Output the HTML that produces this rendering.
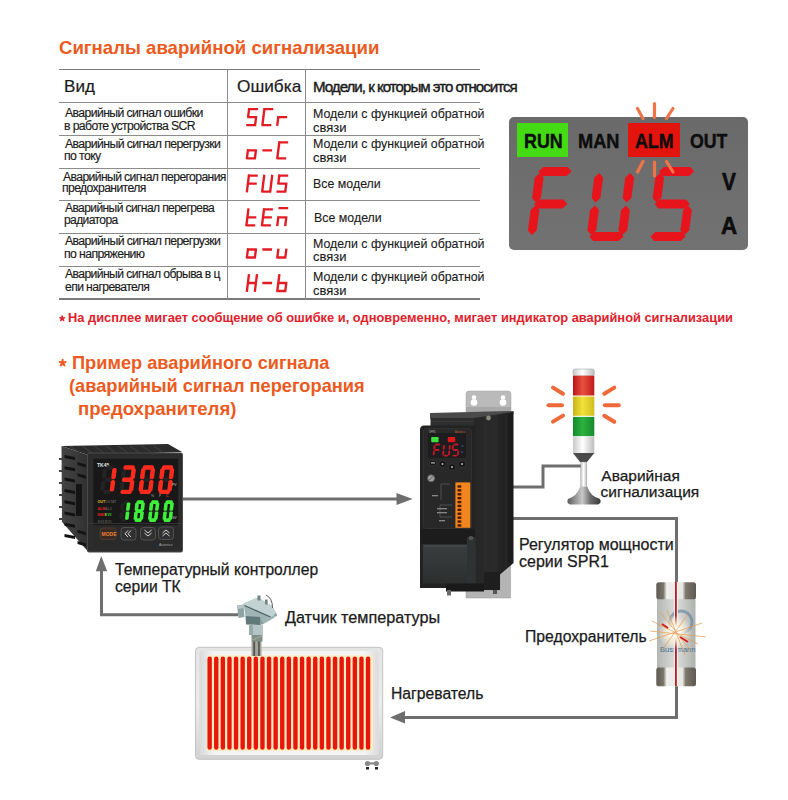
<!DOCTYPE html>
<html><head><meta charset="utf-8"><style>
html,body{margin:0;padding:0;background:#fff;}
body{width:788px;height:800px;position:relative;overflow:hidden;font-family:"Liberation Sans",sans-serif;}
.t{position:absolute;white-space:nowrap;line-height:1;transform-origin:0 0;}
</style></head><body>
<div class="t" style="left:58.86px;top:37.62px;font-size:19px;font-weight:700;color:#ec5a1e;transform:scaleX(0.9791);">Сигналы аварийной сигнализации</div>
<div style="position:absolute;left:59px;top:68.6px;width:421px;height:1.8px;background:#7a7a7a"></div>
<div style="position:absolute;left:59px;top:101.5px;width:421px;height:1.3px;background:#8c8c8c"></div>
<div style="position:absolute;left:59px;top:134.9px;width:421px;height:1.3px;background:#8c8c8c"></div>
<div style="position:absolute;left:59px;top:167.6px;width:421px;height:1.3px;background:#8c8c8c"></div>
<div style="position:absolute;left:59px;top:200.2px;width:421px;height:1.3px;background:#8c8c8c"></div>
<div style="position:absolute;left:59px;top:233.0px;width:421px;height:1.3px;background:#8c8c8c"></div>
<div style="position:absolute;left:59px;top:265.6px;width:421px;height:1.3px;background:#8c8c8c"></div>
<div style="position:absolute;left:59px;top:297.8px;width:421px;height:1.8px;background:#7a7a7a"></div>
<div style="position:absolute;left:227px;top:69px;width:1.3px;height:230px;background:#8c8c8c"></div>
<div style="position:absolute;left:304.7px;top:69px;width:1.3px;height:230px;background:#8c8c8c"></div>
<div class="t" style="left:64.43px;top:77.91px;font-size:17px;color:#1a1a1a;transform:scaleX(1.0045);-webkit-text-stroke:0.2px #1a1a1a;">Вид</div>
<div class="t" style="left:237.02px;top:77.61px;font-size:17px;color:#1a1a1a;transform:scaleX(1.0134);-webkit-text-stroke:0.2px #1a1a1a;">Ошибка</div>
<div class="t" style="left:312.69px;top:80.20px;font-size:14.3px;letter-spacing:-0.95px;color:#1a1a1a;transform:scaleX(1.0571);-webkit-text-stroke:0.4px #1a1a1a;">Модели, к которым это относится</div>
<div class="t" style="left:64.80px;top:107.09px;font-size:12.3px;letter-spacing:-0.62px;color:#1a1a1a;transform:scaleX(0.9958);-webkit-text-stroke:0.15px #1a1a1a;">Аварийный сигнал ошибки</div>
<div class="t" style="left:63.94px;top:119.99px;font-size:12.3px;letter-spacing:-0.62px;color:#1a1a1a;transform:scaleX(0.9958);-webkit-text-stroke:0.15px #1a1a1a;">в работе устройства SCR</div>
<div class="t" style="left:64.80px;top:137.69px;font-size:12.3px;letter-spacing:-0.62px;color:#1a1a1a;transform:scaleX(1.0003);-webkit-text-stroke:0.15px #1a1a1a;">Аварийный сигнал перегрузки</div>
<div class="t" style="left:63.94px;top:149.79px;font-size:12.3px;letter-spacing:-0.62px;color:#1a1a1a;transform:scaleX(1.0003);-webkit-text-stroke:0.15px #1a1a1a;">по току</div>
<div class="t" style="left:62.50px;top:171.09px;font-size:12.3px;letter-spacing:-0.62px;color:#1a1a1a;transform:scaleX(0.9898);-webkit-text-stroke:0.15px #1a1a1a;">Аварийный сигнал перегорания</div>
<div class="t" style="left:61.65px;top:182.39px;font-size:12.3px;letter-spacing:-0.62px;color:#1a1a1a;transform:scaleX(0.9898);-webkit-text-stroke:0.15px #1a1a1a;">предохранителя</div>
<div class="t" style="left:65.20px;top:202.39px;font-size:12.3px;letter-spacing:-0.62px;color:#1a1a1a;transform:scaleX(0.9806);-webkit-text-stroke:0.15px #1a1a1a;">Аварийный сигнал перегрева</div>
<div class="t" style="left:64.42px;top:214.49px;font-size:12.3px;letter-spacing:-0.62px;color:#1a1a1a;transform:scaleX(0.9806);-webkit-text-stroke:0.15px #1a1a1a;">радиатора</div>
<div class="t" style="left:65.00px;top:235.49px;font-size:12.3px;letter-spacing:-0.62px;color:#1a1a1a;transform:scaleX(1.0003);-webkit-text-stroke:0.15px #1a1a1a;">Аварийный сигнал перегрузки</div>
<div class="t" style="left:64.14px;top:248.39px;font-size:12.3px;letter-spacing:-0.62px;color:#1a1a1a;transform:scaleX(1.0003);-webkit-text-stroke:0.15px #1a1a1a;">по напряжению</div>
<div class="t" style="left:65.00px;top:268.09px;font-size:12.3px;letter-spacing:-0.62px;color:#1a1a1a;transform:scaleX(0.9916);-webkit-text-stroke:0.15px #1a1a1a;">Аварийный сигнал обрыва в ц</div>
<div class="t" style="left:64.51px;top:280.69px;font-size:12.3px;letter-spacing:-0.62px;color:#1a1a1a;transform:scaleX(0.9916);-webkit-text-stroke:0.15px #1a1a1a;">епи нагревателя</div>
<div class="t" style="left:312.61px;top:107.93px;font-size:12.6px;color:#1a1a1a;transform:scaleX(0.9833);-webkit-text-stroke:0.12px #1a1a1a;">Модели с функцией обратной</div>
<div class="t" style="left:313.08px;top:121.73px;font-size:12.6px;color:#1a1a1a;transform:scaleX(1.0325);-webkit-text-stroke:0.12px #1a1a1a;">связи</div>
<div class="t" style="left:312.61px;top:138.33px;font-size:12.6px;color:#1a1a1a;transform:scaleX(0.9833);-webkit-text-stroke:0.12px #1a1a1a;">Модели с функцией обратной</div>
<div class="t" style="left:313.08px;top:152.43px;font-size:12.6px;color:#1a1a1a;transform:scaleX(1.0325);-webkit-text-stroke:0.12px #1a1a1a;">связи</div>
<div class="t" style="left:312.61px;top:178.23px;font-size:12.6px;color:#1a1a1a;transform:scaleX(0.9833);-webkit-text-stroke:0.12px #1a1a1a;">Все модели</div>
<div class="t" style="left:313.91px;top:212.23px;font-size:12.6px;color:#1a1a1a;transform:scaleX(0.9833);-webkit-text-stroke:0.12px #1a1a1a;">Все модели</div>
<div class="t" style="left:312.61px;top:237.63px;font-size:12.6px;color:#1a1a1a;transform:scaleX(0.9833);-webkit-text-stroke:0.12px #1a1a1a;">Модели с функцией обратной</div>
<div class="t" style="left:313.08px;top:251.43px;font-size:12.6px;color:#1a1a1a;transform:scaleX(1.0325);-webkit-text-stroke:0.12px #1a1a1a;">связи</div>
<div class="t" style="left:312.61px;top:270.53px;font-size:12.6px;color:#1a1a1a;transform:scaleX(0.9833);-webkit-text-stroke:0.12px #1a1a1a;">Модели с функцией обратной</div>
<div class="t" style="left:313.08px;top:284.53px;font-size:12.6px;color:#1a1a1a;transform:scaleX(1.0325);-webkit-text-stroke:0.12px #1a1a1a;">связи</div>
<svg style="position:absolute;left:0;top:0" width="788" height="800"><path d="M62.20 318.50L62.20 316.20M62.20 318.50L64.39 317.79M62.20 318.50L63.55 320.36M62.20 318.50L60.85 320.36M62.20 318.50L60.01 317.79" stroke="#e0212b" stroke-width="1.7" stroke-linecap="round" fill="none"/></svg>
<div class="t" style="left:67.86px;top:312.10px;font-size:12.4px;font-weight:700;color:#e0212b;transform:scaleX(1.0376);">На дисплее мигает сообщение об ошибке и, одновременно, мигает индикатор аварийной сигнализации</div>
<svg style="position:absolute;left:0;top:0" width="788" height="800"><path d="M62.60 362.90L62.60 359.90M62.60 362.90L65.45 361.97M62.60 362.90L64.36 365.33M62.60 362.90L60.84 365.33M62.60 362.90L59.75 361.97" stroke="#ec5a1e" stroke-width="2.1" stroke-linecap="round" fill="none"/></svg>
<div class="t" style="left:71.92px;top:354.06px;font-size:18.6px;font-weight:700;color:#ec5a1e;transform:scaleX(0.9798);">Пример аварийного сигнала</div>
<div class="t" style="left:69.29px;top:377.36px;font-size:18.6px;font-weight:700;color:#ec5a1e;transform:scaleX(0.9810);">(аварийный сигнал перегорания</div>
<div class="t" style="left:77.60px;top:400.26px;font-size:18.6px;font-weight:700;color:#ec5a1e;transform:scaleX(0.9986);">предохранителя)</div>
<div class="t" style="left:601.30px;top:468.48px;font-size:15.5px;color:#1a1a1a;transform:scaleX(1.0000);-webkit-text-stroke:0.25px #1a1a1a;">Аварийная</div>
<div class="t" style="left:600.58px;top:484.48px;font-size:15.5px;color:#1a1a1a;transform:scaleX(1.0000);-webkit-text-stroke:0.25px #1a1a1a;">сигнализация</div>
<div class="t" style="left:518.72px;top:536.59px;font-size:15.6px;color:#1a1a1a;transform:scaleX(1.0256);-webkit-text-stroke:0.25px #1a1a1a;">Регулятор мощности</div>
<div class="t" style="left:519.36px;top:554.39px;font-size:15.6px;color:#1a1a1a;transform:scaleX(1.0256);-webkit-text-stroke:0.25px #1a1a1a;">серии SPR1</div>
<div class="t" style="left:115.29px;top:561.59px;font-size:15.6px;color:#1a1a1a;transform:scaleX(1.0024);-webkit-text-stroke:0.25px #1a1a1a;">Температурный контроллер</div>
<div class="t" style="left:114.97px;top:579.39px;font-size:15.6px;color:#1a1a1a;transform:scaleX(1.0024);-webkit-text-stroke:0.25px #1a1a1a;">серии ТК</div>
<div class="t" style="left:284.72px;top:609.83px;font-size:15.8px;color:#1a1a1a;transform:scaleX(1.0253);-webkit-text-stroke:0.25px #1a1a1a;">Датчик температуры</div>
<div class="t" style="left:525.44px;top:628.69px;font-size:15.6px;color:#1a1a1a;transform:scaleX(1.0085);-webkit-text-stroke:0.25px #1a1a1a;">Предохранитель</div>
<div class="t" style="left:391.04px;top:686.13px;font-size:15.8px;color:#1a1a1a;transform:scaleX(0.9936);-webkit-text-stroke:0.25px #1a1a1a;">Нагреватель</div>
<svg style="position:absolute;left:0;top:0" width="788" height="800"><path d="M249.40 109.10L256.80 109.10 M249.06 109.40L248.14 116.80 M248.40 117.10L255.80 117.10 M256.06 117.40L255.14 124.80 M247.40 125.10L254.80 125.10 M264.70 109.10L272.10 109.10 M264.36 109.40L263.44 116.80 M263.36 117.40L262.44 124.80 M262.70 125.10L270.10 125.10 M278.26 117.40L277.34 124.80 M278.60 117.10L286.00 117.10" stroke="#e31b23" stroke-width="2.35" fill="none" stroke-linecap="square"/></svg>
<svg style="position:absolute;left:0;top:0" width="788" height="800"><path d="M255.86 150.60L254.94 158.00 M247.20 158.30L254.60 158.30 M247.86 150.60L246.94 158.00 M248.20 150.30L255.60 150.30 M263.50 150.30L270.90 150.30 M279.60 142.30L287.00 142.30 M279.26 142.60L278.34 150.00 M278.26 150.60L277.34 158.00 M277.60 158.30L285.00 158.30" stroke="#e31b23" stroke-width="2.35" fill="none" stroke-linecap="square"/></svg>
<svg style="position:absolute;left:0;top:0" width="788" height="800"><path d="M249.20 175.60L256.60 175.60 M248.86 175.90L247.94 183.30 M248.20 183.60L255.60 183.60 M247.86 183.90L246.94 191.30 M272.16 175.90L271.24 183.30 M271.16 183.90L270.24 191.30 M262.50 191.60L269.90 191.60 M263.16 183.90L262.24 191.30 M264.16 175.90L263.24 183.30 M279.60 175.60L287.00 175.60 M279.26 175.90L278.34 183.30 M278.60 183.60L286.00 183.60 M286.26 183.90L285.34 191.30 M277.60 191.60L285.00 191.60" stroke="#e31b23" stroke-width="2.35" fill="none" stroke-linecap="square"/></svg>
<svg style="position:absolute;left:0;top:0" width="788" height="800"><path d="M248.36 209.60L247.44 217.00 M247.36 217.60L246.44 225.00 M246.70 225.30L254.10 225.30 M247.70 217.30L255.10 217.30 M264.30 209.30L271.70 209.30 M263.96 209.60L263.04 217.00 M263.30 217.30L270.70 217.30 M262.96 217.60L262.04 225.00 M262.30 225.30L269.70 225.30 M286.26 217.60L285.34 225.00 M278.26 217.60L277.34 225.00 M278.60 217.30L286.00 217.30 M279.60 208.10L287.00 208.10" stroke="#e31b23" stroke-width="2.35" fill="none" stroke-linecap="square"/></svg>
<svg style="position:absolute;left:0;top:0" width="788" height="800"><path d="M255.86 249.80L254.94 257.20 M247.20 257.50L254.60 257.50 M247.86 249.80L246.94 257.20 M248.20 249.50L255.60 249.50 M263.50 249.50L270.90 249.50 M286.26 249.80L285.34 257.20 M277.60 257.50L285.00 257.50 M278.26 249.80L277.34 257.20" stroke="#e31b23" stroke-width="2.35" fill="none" stroke-linecap="square"/></svg>
<svg style="position:absolute;left:0;top:0" width="788" height="800"><path d="M256.86 275.30L255.94 282.70 M255.86 283.30L254.94 290.70 M247.86 283.30L246.94 290.70 M248.86 275.30L247.94 282.70 M248.20 283.00L255.60 283.00 M263.50 283.00L270.90 283.00 M279.26 275.30L278.34 282.70 M278.26 283.30L277.34 290.70 M277.60 291.00L285.00 291.00 M286.26 283.30L285.34 290.70 M278.60 283.00L286.00 283.00" stroke="#e31b23" stroke-width="2.35" fill="none" stroke-linecap="square"/></svg>
<div style="position:absolute;left:508.5px;top:117.2px;width:239.5px;height:132.5px;background:linear-gradient(180deg,#6a6a6a,#727272);border-radius:5px"></div>
<div style="position:absolute;left:517.4px;top:123.4px;width:50.8px;height:33.9px;background:#45db14"></div>
<div style="position:absolute;left:628.4px;top:123.4px;width:51.2px;height:33.8px;background:#e2140d"></div>
<div class="t" style="left:523.74px;top:130.02px;font-size:21px;font-weight:700;color:#0d0d0d;transform:scaleX(0.8518);-webkit-text-stroke:0.45px #0d0d0d;">RUN</div>
<div class="t" style="left:577.82px;top:130.02px;font-size:21px;font-weight:700;color:#0d0d0d;transform:scaleX(0.8658);-webkit-text-stroke:0.45px #0d0d0d;">MAN</div>
<div class="t" style="left:635.16px;top:130.02px;font-size:21px;font-weight:700;color:#0d0d0d;transform:scaleX(0.8445);-webkit-text-stroke:0.45px #0d0d0d;">ALM</div>
<div class="t" style="left:690.29px;top:130.02px;font-size:21px;font-weight:700;color:#0d0d0d;transform:scaleX(0.8437);-webkit-text-stroke:0.45px #0d0d0d;">OUT</div>
<div class="t" style="left:721.60px;top:171.11px;font-size:23.5px;font-weight:700;color:#0d0d0d;transform:scaleX(0.8900);-webkit-text-stroke:0.6px #0d0d0d;">V</div>
<div class="t" style="left:720.64px;top:214.91px;font-size:23.5px;font-weight:700;color:#0d0d0d;transform:scaleX(0.9527);-webkit-text-stroke:0.6px #0d0d0d;">A</div>
<svg style="position:absolute;left:0;top:0" width="788" height="800"><polygon points="538.4,171.5 543.4,167.1 567.8,167.1 571.6,171.5 571.6,171.5 566.6,175.9 542.2,175.9 538.4,171.5" fill="#e8141c"/><polygon points="539.8,173.1 539.8,173.1 543.6,177.5 540.9,198.0 536.0,202.4 536.0,202.4 532.1,198.0 534.8,177.5" fill="#e8141c"/><polygon points="534.1,204.0 539.1,199.6 563.5,199.6 567.4,204.0 567.4,204.0 562.4,208.4 538.0,208.4 534.1,204.0" fill="#e8141c"/><polygon points="535.5,205.6 535.5,205.6 539.4,210.0 536.7,230.5 531.7,234.9 531.7,234.9 527.9,230.5 530.6,210.0" fill="#e8141c"/><polygon points="630.3,173.1 630.3,173.1 634.1,177.5 631.4,198.0 626.5,202.4 626.5,202.4 622.6,198.0 625.3,177.5" fill="#e8141c"/><polygon points="626.0,205.6 626.0,205.6 629.9,210.0 627.2,230.5 622.2,234.9 622.2,234.9 618.4,230.5 621.1,210.0" fill="#e8141c"/><polygon points="589.4,236.5 594.4,232.1 619.8,232.1 623.6,236.5 623.6,236.5 618.6,240.9 593.2,240.9 589.4,236.5" fill="#e8141c"/><polygon points="595.0,205.6 595.0,205.6 598.9,210.0 596.2,230.5 591.2,234.9 591.2,234.9 587.4,230.5 590.1,210.0" fill="#e8141c"/><polygon points="599.3,173.1 599.3,173.1 603.1,177.5 600.4,198.0 595.5,202.4 595.5,202.4 591.6,198.0 594.3,177.5" fill="#e8141c"/><polygon points="658.9,171.5 663.9,167.1 690.3,167.1 694.1,171.5 694.1,171.5 689.1,175.9 662.7,175.9 658.9,171.5" fill="#e8141c"/><polygon points="660.3,173.1 660.3,173.1 664.1,177.5 661.4,198.0 656.5,202.4 656.5,202.4 652.6,198.0 655.3,177.5" fill="#e8141c"/><polygon points="654.6,204.0 659.6,199.6 686.0,199.6 689.9,204.0 689.9,204.0 684.9,208.4 658.5,208.4 654.6,204.0" fill="#e8141c"/><polygon points="688.0,205.6 688.0,205.6 691.9,210.0 689.2,230.5 684.2,234.9 684.2,234.9 680.4,230.5 683.1,210.0" fill="#e8141c"/><polygon points="650.4,236.5 655.4,232.1 681.8,232.1 685.6,236.5 685.6,236.5 680.6,240.9 654.2,240.9 650.4,236.5" fill="#e8141c"/><g stroke="#f07448" stroke-width="3.2" stroke-linecap="round"><line x1="654.5" y1="103.5" x2="654.5" y2="117.5"/><line x1="637.5" y1="108.5" x2="643" y2="118.5"/><line x1="673" y1="108.5" x2="666.5" y2="118.5"/><line x1="654.5" y1="162" x2="654.5" y2="176"/><line x1="643" y1="161.5" x2="637.5" y2="172"/><line x1="666.5" y1="161.5" x2="673" y2="172"/></g></svg>
<svg style="position:absolute;left:0;top:0" width="788" height="800"><g stroke="#6e6e6e" stroke-width="3" fill="none" stroke-linejoin="miter"><polyline points="181,499 399,499"/><polyline points="512,487 543,487 543,466 584,466"/><polyline points="512,518.5 676.5,518.5 676.5,717.5 403,717.5"/><polyline points="238,614.8 101.5,614.8 101.5,569"/></g><g fill="#6e6e6e"><polygon points="412.6,499 396.5,493 396.5,505"/><polygon points="390,717.5 405,711 405,723.5"/><polygon points="101.3,556 95.8,571.2 107.2,571.2"/></g></svg>
<svg style="position:absolute;left:0;top:0" width="788" height="800"><defs><linearGradient id="tkb" x1="0" x2="1"><stop offset="0" stop-color="#444"/><stop offset="1" stop-color="#303030"/></linearGradient></defs><polygon points="61.5,446 168,444 182,452 88,455" fill="#2b2b2b"/><g stroke="#4a4a4a" stroke-width="0.8"><line x1="70" y1="446" x2="80" y2="453"/><line x1="82" y1="446" x2="92" y2="453"/><line x1="94" y1="446" x2="104" y2="453"/><line x1="106" y1="446" x2="116" y2="453"/><line x1="118" y1="446" x2="128" y2="453"/><line x1="130" y1="446" x2="140" y2="453"/><line x1="142" y1="446" x2="152" y2="453"/><line x1="154" y1="446" x2="164" y2="453"/></g><polygon points="61.5,446 88,455 88,551.5 62,522" fill="url(#tkb)"/><polygon points="64.5,455.0 75,457.0 75,460.0 64.5,458.0" fill="#121212"/><polygon points="64.5,466.3 75,468.3 75,471.3 64.5,469.3" fill="#121212"/><polygon points="64.5,477.6 75,479.6 75,482.6 64.5,480.6" fill="#121212"/><polygon points="64.5,488.9 75,490.9 75,493.9 64.5,491.9" fill="#121212"/><polygon points="64.5,500.2 75,502.2 75,505.2 64.5,503.2" fill="#121212"/><polygon points="64.5,511.5 75,513.5 75,516.5 64.5,514.5" fill="#121212"/><polygon points="64.5,522.8 75,524.8 75,527.8 64.5,525.8" fill="#121212"/><polygon points="64.5,534.1 75,536.1 75,539.1 64.5,537.1" fill="#121212"/><polygon points="77.5,462.0 86,464.5 86,467.5 77.5,465.0" fill="#141414"/><polygon points="77.5,473.3 86,475.8 86,478.8 77.5,476.3" fill="#141414"/><polygon points="77.5,529.8 86,532.3 86,535.3 77.5,532.8" fill="#141414"/><polygon points="77.5,541.1 86,543.6 86,546.6 77.5,544.1" fill="#141414"/><rect x="76" y="484" width="6" height="32" fill="#141414"/><g fill="#444"><rect x="59" y="458" width="3" height="2"/><rect x="59" y="470" width="3" height="2"/><rect x="59" y="482" width="3" height="2"/><rect x="59" y="494" width="3" height="2"/><rect x="59" y="506" width="3" height="2"/><rect x="59" y="518" width="3" height="2"/></g><rect x="87.5" y="453" width="95" height="99" rx="1.5" fill="#2c2c2c" stroke="#4a4a4a" stroke-width="1"/><rect x="93" y="458.5" width="85.5" height="67" fill="#181818" stroke="#2a2a2a" stroke-width="0.8"/><rect x="93" y="526" width="85.5" height="22" fill="#2a2a2a"/><line x1="88" y1="523.5" x2="182" y2="523.5" stroke="#3a3a3a" stroke-width="0.8"/><text x="97" y="466.5" font-family="Liberation Sans" font-size="5" font-weight="700" fill="#e0e0e0">TK45</text><polygon points="105.6,467.5 108.0,465.4 112.4,465.4 114.2,467.5 114.2,467.5 111.8,469.6 107.4,469.6 105.6,467.5" fill="#252323"/><polygon points="114.6,468.0 114.6,468.0 116.5,470.1 115.6,477.1 113.3,479.2 113.3,479.2 111.4,477.1 112.3,470.1" fill="#252323"/><polygon points="113.1,480.2 113.1,480.2 115.0,482.3 114.1,489.3 111.8,491.4 111.8,491.4 109.9,489.3 110.8,482.3" fill="#252323"/><polygon points="102.6,491.9 105.0,489.8 109.4,489.8 111.2,491.9 111.2,491.9 108.8,494.0 104.4,494.0 102.6,491.9" fill="#252323"/><polygon points="103.5,480.2 103.5,480.2 105.4,482.3 104.5,489.3 102.2,491.4 102.2,491.4 100.3,489.3 101.2,482.3" fill="#252323"/><polygon points="105.0,468.0 105.0,468.0 106.9,470.1 106.0,477.1 103.7,479.2 103.7,479.2 101.8,477.1 102.7,470.1" fill="#252323"/><polygon points="104.1,479.7 106.5,477.6 110.9,477.6 112.7,479.7 112.7,479.7 110.3,481.8 105.9,481.8 104.1,479.7" fill="#252323"/><polygon points="124.8,467.5 127.2,465.4 131.6,465.4 133.4,467.5 133.4,467.5 131.0,469.6 126.6,469.6 124.8,467.5" fill="#252323"/><polygon points="133.8,468.0 133.8,468.0 135.7,470.1 134.8,477.1 132.5,479.2 132.5,479.2 130.6,477.1 131.5,470.1" fill="#252323"/><polygon points="132.3,480.2 132.3,480.2 134.2,482.3 133.3,489.3 131.0,491.4 131.0,491.4 129.1,489.3 130.0,482.3" fill="#252323"/><polygon points="121.8,491.9 124.2,489.8 128.6,489.8 130.4,491.9 130.4,491.9 128.0,494.0 123.6,494.0 121.8,491.9" fill="#252323"/><polygon points="122.7,480.2 122.7,480.2 124.6,482.3 123.7,489.3 121.4,491.4 121.4,491.4 119.5,489.3 120.4,482.3" fill="#252323"/><polygon points="124.2,468.0 124.2,468.0 126.1,470.1 125.2,477.1 122.9,479.2 122.9,479.2 121.0,477.1 121.9,470.1" fill="#252323"/><polygon points="123.3,479.7 125.7,477.6 130.1,477.6 131.9,479.7 131.9,479.7 129.5,481.8 125.1,481.8 123.3,479.7" fill="#252323"/><polygon points="144.0,467.5 146.4,465.4 150.8,465.4 152.6,467.5 152.6,467.5 150.2,469.6 145.8,469.6 144.0,467.5" fill="#252323"/><polygon points="153.0,468.0 153.0,468.0 154.9,470.1 154.0,477.1 151.7,479.2 151.7,479.2 149.8,477.1 150.7,470.1" fill="#252323"/><polygon points="151.5,480.2 151.5,480.2 153.4,482.3 152.5,489.3 150.2,491.4 150.2,491.4 148.3,489.3 149.2,482.3" fill="#252323"/><polygon points="141.0,491.9 143.4,489.8 147.8,489.8 149.6,491.9 149.6,491.9 147.2,494.0 142.8,494.0 141.0,491.9" fill="#252323"/><polygon points="141.9,480.2 141.9,480.2 143.8,482.3 142.9,489.3 140.6,491.4 140.6,491.4 138.7,489.3 139.6,482.3" fill="#252323"/><polygon points="143.4,468.0 143.4,468.0 145.3,470.1 144.4,477.1 142.1,479.2 142.1,479.2 140.2,477.1 141.1,470.1" fill="#252323"/><polygon points="142.5,479.7 144.9,477.6 149.3,477.6 151.1,479.7 151.1,479.7 148.7,481.8 144.3,481.8 142.5,479.7" fill="#252323"/><polygon points="163.2,467.5 165.6,465.4 170.0,465.4 171.8,467.5 171.8,467.5 169.4,469.6 165.0,469.6 163.2,467.5" fill="#252323"/><polygon points="172.2,468.0 172.2,468.0 174.1,470.1 173.2,477.1 170.9,479.2 170.9,479.2 169.0,477.1 169.9,470.1" fill="#252323"/><polygon points="170.7,480.2 170.7,480.2 172.6,482.3 171.7,489.3 169.4,491.4 169.4,491.4 167.5,489.3 168.4,482.3" fill="#252323"/><polygon points="160.2,491.9 162.6,489.8 167.0,489.8 168.8,491.9 168.8,491.9 166.4,494.0 162.0,494.0 160.2,491.9" fill="#252323"/><polygon points="161.1,480.2 161.1,480.2 163.0,482.3 162.1,489.3 159.8,491.4 159.8,491.4 157.9,489.3 158.8,482.3" fill="#252323"/><polygon points="162.6,468.0 162.6,468.0 164.5,470.1 163.6,477.1 161.3,479.2 161.3,479.2 159.4,477.1 160.3,470.1" fill="#252323"/><polygon points="161.7,479.7 164.1,477.6 168.5,477.6 170.3,479.7 170.3,479.7 167.9,481.8 163.5,481.8 161.7,479.7" fill="#252323"/><polygon points="113.8,467.9 115.5,467.9 116.7,469.2 115.6,478.0 114.1,479.3 112.4,479.3 111.2,478.0 112.3,469.2" fill="#ff2a1e"/><polygon points="112.3,480.1 114.0,480.1 115.2,481.4 114.1,490.2 112.6,491.5 110.9,491.5 109.7,490.2 110.8,481.4" fill="#ff2a1e"/><polygon points="123.6,466.6 125.1,465.3 133.7,465.3 134.8,466.6 134.6,468.4 133.1,469.7 124.5,469.7 123.4,468.4" fill="#ff2a1e"/><polygon points="133.0,467.9 134.7,467.9 135.9,469.2 134.8,478.0 133.3,479.3 131.6,479.3 130.4,478.0 131.5,469.2" fill="#ff2a1e"/><polygon points="131.5,480.1 133.2,480.1 134.4,481.4 133.3,490.2 131.8,491.5 130.1,491.5 128.9,490.2 130.0,481.4" fill="#ff2a1e"/><polygon points="120.6,491.0 122.1,489.7 130.7,489.7 131.8,491.0 131.6,492.8 130.1,494.1 121.5,494.1 120.4,492.8" fill="#ff2a1e"/><polygon points="122.1,478.8 123.6,477.5 132.2,477.5 133.3,478.8 133.1,480.6 131.6,481.9 123.0,481.9 121.9,480.6" fill="#ff2a1e"/><polygon points="142.8,466.6 144.3,465.3 152.9,465.3 154.0,466.6 153.8,468.4 152.3,469.7 143.7,469.7 142.6,468.4" fill="#ff2a1e"/><polygon points="152.2,467.9 153.9,467.9 155.1,469.2 154.0,478.0 152.5,479.3 150.8,479.3 149.6,478.0 150.7,469.2" fill="#ff2a1e"/><polygon points="150.7,480.1 152.4,480.1 153.6,481.4 152.5,490.2 151.0,491.5 149.3,491.5 148.1,490.2 149.2,481.4" fill="#ff2a1e"/><polygon points="139.8,491.0 141.3,489.7 149.9,489.7 151.0,491.0 150.8,492.8 149.3,494.1 140.7,494.1 139.6,492.8" fill="#ff2a1e"/><polygon points="141.1,480.1 142.8,480.1 144.0,481.4 142.9,490.2 141.4,491.5 139.7,491.5 138.5,490.2 139.6,481.4" fill="#ff2a1e"/><polygon points="142.6,467.9 144.3,467.9 145.5,469.2 144.4,478.0 142.9,479.3 141.2,479.3 140.0,478.0 141.1,469.2" fill="#ff2a1e"/><polygon points="162.0,466.6 163.5,465.3 172.1,465.3 173.2,466.6 173.0,468.4 171.5,469.7 162.9,469.7 161.8,468.4" fill="#ff2a1e"/><polygon points="171.4,467.9 173.1,467.9 174.3,469.2 173.2,478.0 171.7,479.3 170.0,479.3 168.8,478.0 169.9,469.2" fill="#ff2a1e"/><polygon points="169.9,480.1 171.6,480.1 172.8,481.4 171.7,490.2 170.2,491.5 168.5,491.5 167.3,490.2 168.4,481.4" fill="#ff2a1e"/><polygon points="159.0,491.0 160.5,489.7 169.1,489.7 170.2,491.0 170.0,492.8 168.5,494.1 159.9,494.1 158.8,492.8" fill="#ff2a1e"/><polygon points="160.3,480.1 162.0,480.1 163.2,481.4 162.1,490.2 160.6,491.5 158.9,491.5 157.7,490.2 158.8,481.4" fill="#ff2a1e"/><polygon points="161.8,467.9 163.5,467.9 164.7,469.2 163.6,478.0 162.1,479.3 160.4,479.3 159.2,478.0 160.3,469.2" fill="#ff2a1e"/><polygon points="123.1,502.1 125.0,500.4 126.8,500.4 128.3,502.1 128.3,502.1 126.4,503.8 124.6,503.8 123.1,502.1" fill="#222522"/><polygon points="128.7,502.5 128.7,502.5 130.2,504.2 129.6,509.0 127.7,510.7 127.7,510.7 126.2,509.0 126.8,504.2" fill="#222522"/><polygon points="127.7,511.5 127.7,511.5 129.2,513.2 128.6,518.0 126.7,519.7 126.7,519.7 125.2,518.0 125.8,513.2" fill="#222522"/><polygon points="121.1,520.1 123.0,518.4 124.8,518.4 126.3,520.1 126.3,520.1 124.4,521.8 122.6,521.8 121.1,520.1" fill="#222522"/><polygon points="121.7,511.5 121.7,511.5 123.2,513.2 122.6,518.0 120.7,519.7 120.7,519.7 119.2,518.0 119.8,513.2" fill="#222522"/><polygon points="122.7,502.5 122.7,502.5 124.2,504.2 123.6,509.0 121.7,510.7 121.7,510.7 120.2,509.0 120.8,504.2" fill="#222522"/><polygon points="122.1,511.1 124.0,509.4 125.8,509.4 127.3,511.1 127.3,511.1 125.4,512.8 123.6,512.8 122.1,511.1" fill="#222522"/><polygon points="137.6,502.1 139.5,500.4 141.3,500.4 142.8,502.1 142.8,502.1 140.9,503.8 139.1,503.8 137.6,502.1" fill="#222522"/><polygon points="143.2,502.5 143.2,502.5 144.7,504.2 144.1,509.0 142.2,510.7 142.2,510.7 140.7,509.0 141.3,504.2" fill="#222522"/><polygon points="142.2,511.5 142.2,511.5 143.7,513.2 143.1,518.0 141.2,519.7 141.2,519.7 139.7,518.0 140.3,513.2" fill="#222522"/><polygon points="135.6,520.1 137.5,518.4 139.3,518.4 140.8,520.1 140.8,520.1 138.9,521.8 137.1,521.8 135.6,520.1" fill="#222522"/><polygon points="136.2,511.5 136.2,511.5 137.7,513.2 137.1,518.0 135.2,519.7 135.2,519.7 133.7,518.0 134.3,513.2" fill="#222522"/><polygon points="137.2,502.5 137.2,502.5 138.7,504.2 138.1,509.0 136.2,510.7 136.2,510.7 134.7,509.0 135.3,504.2" fill="#222522"/><polygon points="136.6,511.1 138.5,509.4 140.3,509.4 141.8,511.1 141.8,511.1 139.9,512.8 138.1,512.8 136.6,511.1" fill="#222522"/><polygon points="152.1,502.1 154.0,500.4 155.8,500.4 157.3,502.1 157.3,502.1 155.4,503.8 153.6,503.8 152.1,502.1" fill="#222522"/><polygon points="157.7,502.5 157.7,502.5 159.2,504.2 158.6,509.0 156.7,510.7 156.7,510.7 155.2,509.0 155.8,504.2" fill="#222522"/><polygon points="156.7,511.5 156.7,511.5 158.2,513.2 157.6,518.0 155.7,519.7 155.7,519.7 154.2,518.0 154.8,513.2" fill="#222522"/><polygon points="150.1,520.1 152.0,518.4 153.8,518.4 155.3,520.1 155.3,520.1 153.4,521.8 151.6,521.8 150.1,520.1" fill="#222522"/><polygon points="150.7,511.5 150.7,511.5 152.2,513.2 151.6,518.0 149.7,519.7 149.7,519.7 148.2,518.0 148.8,513.2" fill="#222522"/><polygon points="151.7,502.5 151.7,502.5 153.2,504.2 152.6,509.0 150.7,510.7 150.7,510.7 149.2,509.0 149.8,504.2" fill="#222522"/><polygon points="151.1,511.1 153.0,509.4 154.8,509.4 156.3,511.1 156.3,511.1 154.4,512.8 152.6,512.8 151.1,511.1" fill="#222522"/><polygon points="166.6,502.1 168.5,500.4 170.3,500.4 171.8,502.1 171.8,502.1 169.9,503.8 168.1,503.8 166.6,502.1" fill="#222522"/><polygon points="172.2,502.5 172.2,502.5 173.7,504.2 173.1,509.0 171.2,510.7 171.2,510.7 169.7,509.0 170.3,504.2" fill="#222522"/><polygon points="171.2,511.5 171.2,511.5 172.7,513.2 172.1,518.0 170.2,519.7 170.2,519.7 168.7,518.0 169.3,513.2" fill="#222522"/><polygon points="164.6,520.1 166.5,518.4 168.3,518.4 169.8,520.1 169.8,520.1 167.9,521.8 166.1,521.8 164.6,520.1" fill="#222522"/><polygon points="165.2,511.5 165.2,511.5 166.7,513.2 166.1,518.0 164.2,519.7 164.2,519.7 162.7,518.0 163.3,513.2" fill="#222522"/><polygon points="166.2,502.5 166.2,502.5 167.7,504.2 167.1,509.0 165.2,510.7 165.2,510.7 163.7,509.0 164.3,504.2" fill="#222522"/><polygon points="165.6,511.1 167.5,509.4 169.3,509.4 170.8,511.1 170.8,511.1 168.9,512.8 167.1,512.8 165.6,511.1" fill="#222522"/><polygon points="127.8,502.4 129.6,502.4 130.4,503.3 129.6,509.9 128.6,510.8 126.8,510.8 126.0,509.9 126.8,503.3" fill="#3ef03a"/><polygon points="126.8,511.4 128.6,511.4 129.4,512.3 128.6,518.9 127.6,519.8 125.8,519.8 125.0,518.9 125.8,512.3" fill="#3ef03a"/><polygon points="136.8,501.2 137.8,500.3 143.0,500.3 143.8,501.2 143.6,503.0 142.6,503.9 137.4,503.9 136.6,503.0" fill="#3ef03a"/><polygon points="142.3,502.4 144.1,502.4 144.9,503.3 144.1,509.9 143.1,510.8 141.3,510.8 140.5,509.9 141.3,503.3" fill="#3ef03a"/><polygon points="141.3,511.4 143.1,511.4 143.9,512.3 143.1,518.9 142.1,519.8 140.3,519.8 139.5,518.9 140.3,512.3" fill="#3ef03a"/><polygon points="134.8,519.2 135.8,518.3 141.0,518.3 141.8,519.2 141.6,521.0 140.6,521.9 135.4,521.9 134.6,521.0" fill="#3ef03a"/><polygon points="135.3,511.4 137.1,511.4 137.9,512.3 137.1,518.9 136.1,519.8 134.3,519.8 133.5,518.9 134.3,512.3" fill="#3ef03a"/><polygon points="136.3,502.4 138.1,502.4 138.9,503.3 138.1,509.9 137.1,510.8 135.3,510.8 134.5,509.9 135.3,503.3" fill="#3ef03a"/><polygon points="135.8,510.2 136.8,509.3 142.0,509.3 142.8,510.2 142.6,512.0 141.6,512.9 136.4,512.9 135.6,512.0" fill="#3ef03a"/><polygon points="151.3,501.2 152.3,500.3 157.5,500.3 158.3,501.2 158.1,503.0 157.1,503.9 151.9,503.9 151.1,503.0" fill="#3ef03a"/><polygon points="156.8,502.4 158.6,502.4 159.4,503.3 158.6,509.9 157.6,510.8 155.8,510.8 155.0,509.9 155.8,503.3" fill="#3ef03a"/><polygon points="155.8,511.4 157.6,511.4 158.4,512.3 157.6,518.9 156.6,519.8 154.8,519.8 154.0,518.9 154.8,512.3" fill="#3ef03a"/><polygon points="149.3,519.2 150.3,518.3 155.5,518.3 156.3,519.2 156.1,521.0 155.1,521.9 149.9,521.9 149.1,521.0" fill="#3ef03a"/><polygon points="149.8,511.4 151.6,511.4 152.4,512.3 151.6,518.9 150.6,519.8 148.8,519.8 148.0,518.9 148.8,512.3" fill="#3ef03a"/><polygon points="150.8,502.4 152.6,502.4 153.4,503.3 152.6,509.9 151.6,510.8 149.8,510.8 149.0,509.9 149.8,503.3" fill="#3ef03a"/><polygon points="165.8,501.2 166.8,500.3 172.0,500.3 172.8,501.2 172.6,503.0 171.6,503.9 166.4,503.9 165.6,503.0" fill="#3ef03a"/><polygon points="171.3,502.4 173.1,502.4 173.9,503.3 173.1,509.9 172.1,510.8 170.3,510.8 169.5,509.9 170.3,503.3" fill="#3ef03a"/><polygon points="170.3,511.4 172.1,511.4 172.9,512.3 172.1,518.9 171.1,519.8 169.3,519.8 168.5,518.9 169.3,512.3" fill="#3ef03a"/><polygon points="163.8,519.2 164.8,518.3 170.0,518.3 170.8,519.2 170.6,521.0 169.6,521.9 164.4,521.9 163.6,521.0" fill="#3ef03a"/><polygon points="164.3,511.4 166.1,511.4 166.9,512.3 166.1,518.9 165.1,519.8 163.3,519.8 162.5,518.9 163.3,512.3" fill="#3ef03a"/><polygon points="165.3,502.4 167.1,502.4 167.9,503.3 167.1,509.9 166.1,510.8 164.3,510.8 163.5,509.9 164.3,503.3" fill="#3ef03a"/><text x="172" y="486" font-family="Liberation Sans" font-size="3.5" fill="#ccc">PV</text><text x="172" y="519" font-family="Liberation Sans" font-size="3.5" fill="#ccc">SV</text><g font-family="Liberation Sans" font-size="3.6" font-weight="700"><text x="97.5" y="503" fill="#e8c020">OUT</text><text x="105" y="503" fill="#555">OUT</text><text x="112" y="503" fill="#555">AT</text><text x="97.5" y="509.5" fill="#e02020">ALM</text><text x="105" y="509.5" fill="#555">AL2</text><text x="97.5" y="516" fill="#e02020">MAN</text><text x="105" y="516" fill="#38d038">EV1</text><text x="97.5" y="522.5" fill="#555">SV2</text><text x="105" y="522.5" fill="#555">EV1</text><text x="151" y="497" fill="#777">%</text><text x="159" y="497" fill="#777">F</text><text x="166" y="497" fill="#e03030">C</text></g><rect x="100" y="528" width="16" height="11.5" rx="3" fill="#3a2a20" stroke="#5a4a40" stroke-width="0.6"/><text x="101.5" y="536" font-family="Liberation Sans" font-size="5" font-weight="700" fill="#e8803a">MODE</text><rect x="121" y="527.5" width="15" height="12.5" rx="3" fill="#303030" stroke="#5a5a5a" stroke-width="0.8"/><rect x="140.5" y="527.5" width="15" height="12.5" rx="3" fill="#303030" stroke="#5a5a5a" stroke-width="0.8"/><rect x="158.5" y="527" width="15" height="12.5" rx="3" fill="#303030" stroke="#5a5a5a" stroke-width="0.8"/><g stroke="#d8d8d8" stroke-width="1" fill="none"><polyline points="128,530.5 125,533.8 128,537"/><polyline points="131,530.5 128,533.8 131,537"/><polyline points="144.5,530 148,533 151.5,530"/><polyline points="144.5,533 148,536 151.5,533"/><polyline points="162.5,533 166,530 169.5,533"/><polyline points="162.5,536 166,533 169.5,536"/></g><text x="159" y="545.5" font-family="Liberation Sans" font-size="3.5" fill="#aaa">Autonics</text></svg>
<svg style="position:absolute;left:0;top:0" width="788" height="800"><defs><linearGradient id="sd" x1="0" x2="1"><stop offset="0" stop-color="#262626"/><stop offset="0.5" stop-color="#2a2a2a"/><stop offset="1" stop-color="#1a1a1a"/></linearGradient><linearGradient id="cov" x1="0" x2="0" y1="0" y2="1"><stop offset="0" stop-color="#3a3d3d"/><stop offset="0.5" stop-color="#343737"/><stop offset="1" stop-color="#2c2e2e"/></linearGradient></defs><path d="M466 394 Q466 391 469 391 L508 391 Q511 391 511 394 L511 412 L466 412 Z" fill="#bababa" stroke="#a0a0a0" stroke-width="0.5"/><g fill="#fff"><circle cx="474" cy="397.5" r="2.3"/><circle cx="474" cy="402.5" r="3.3"/><circle cx="503" cy="397.5" r="2.3"/><circle cx="503" cy="402.5" r="3.3"/></g><rect x="466" y="407" width="45" height="5" fill="#a8a8a8"/><polygon points="500,567 510.6,563 510.6,598 466,598 466,590 500,590" fill="#b4b4b4" stroke="#9a9a9a" stroke-width="0.5"/><polygon points="430,413 513.5,411 513.5,414 474,419 430,419" fill="#4a4a4a"/><polygon points="474,418 513.5,412 513.5,563 484,588 474,588" fill="url(#sd)"/><g stroke="#303030" stroke-width="0.9"><line x1="485" y1="417" x2="485" y2="585"/><line x1="496" y1="415" x2="496" y2="576"/><line x1="506" y1="413.5" x2="506" y2="568"/></g><polygon points="430.5,418 474,418 474,426 430.5,426" fill="#2e2e2e"/><line x1="431" y1="421.5" x2="473" y2="421.5" stroke="#3e3e3e" stroke-width="0.8"/><circle cx="488.5" cy="418" r="2.4" fill="#8a8a80"/><path d="M420 430 Q420 425.5 424 425.5 L475 425.5 L475 588 L420 588 Z" fill="#222"/><rect x="423.5" y="428.5" width="48" height="100" rx="2.5" fill="#282828" stroke="#353535" stroke-width="0.7"/><rect x="428" y="433" width="38" height="25" fill="#1d1d1f"/><rect x="431.2" y="437" width="7.4" height="5.3" rx="1" fill="#3ee040"/><rect x="447.8" y="437" width="7.4" height="5.3" rx="1" fill="#e01818"/><text x="429" y="433" font-family="Liberation Sans" font-size="2.6" fill="#aaa">SPR1</text><text x="455" y="433" font-family="Liberation Sans" font-size="2.6" fill="#c06030">Autonics</text><polygon points="434.9,444.5 436.0,443.6 439.5,443.6 440.3,444.5 440.3,444.5 439.2,445.4 435.7,445.4 434.9,444.5" fill="#c01828"/><polygon points="434.7,444.7 434.7,444.7 435.5,445.6 435.2,448.9 434.1,449.9 434.1,449.9 433.3,448.9 433.6,445.6" fill="#c01828"/><polygon points="434.3,450.1 435.4,449.1 438.9,449.1 439.7,450.1 439.7,450.1 438.6,451.1 435.1,451.1 434.3,450.1" fill="#c01828"/><polygon points="434.1,450.3 434.1,450.3 434.9,451.2 434.6,454.6 433.5,455.5 433.5,455.5 432.7,454.6 433.0,451.2" fill="#c01828"/><polygon points="450.0,444.7 450.0,444.7 450.8,445.6 450.5,448.9 449.4,449.9 449.4,449.9 448.6,448.9 448.9,445.6" fill="#c01828"/><polygon points="449.4,450.3 449.4,450.3 450.2,451.2 449.9,454.6 448.8,455.5 448.8,455.5 448.0,454.6 448.3,451.2" fill="#c01828"/><polygon points="443.2,455.7 444.3,454.8 447.8,454.8 448.6,455.7 448.6,455.7 447.5,456.6 444.0,456.6 443.2,455.7" fill="#c01828"/><polygon points="443.6,450.3 443.6,450.3 444.4,451.2 444.1,454.6 443.0,455.5 443.0,455.5 442.2,454.6 442.5,451.2" fill="#c01828"/><polygon points="444.2,444.7 444.2,444.7 445.0,445.6 444.7,448.9 443.6,449.9 443.6,449.9 442.8,448.9 443.1,445.6" fill="#c01828"/><polygon points="453.4,444.5 454.5,443.6 458.0,443.6 458.8,444.5 458.8,444.5 457.7,445.4 454.2,445.4 453.4,444.5" fill="#c01828"/><polygon points="453.2,444.7 453.2,444.7 454.0,445.6 453.7,448.9 452.6,449.9 452.6,449.9 451.8,448.9 452.1,445.6" fill="#c01828"/><polygon points="452.8,450.1 453.9,449.1 457.4,449.1 458.2,450.1 458.2,450.1 457.1,451.1 453.6,451.1 452.8,450.1" fill="#c01828"/><polygon points="458.4,450.3 458.4,450.3 459.2,451.2 458.9,454.6 457.8,455.5 457.8,455.5 457.0,454.6 457.3,451.2" fill="#c01828"/><polygon points="452.2,455.7 453.3,454.8 456.8,454.8 457.6,455.7 457.6,455.7 456.5,456.6 453.0,456.6 452.2,455.7" fill="#c01828"/><circle cx="462.5" cy="446" r="0.9" fill="#3a4a8a"/><circle cx="462" cy="452" r="0.9" fill="#3a4a8a"/><g fill="#141414" stroke="#3c3c3c" stroke-width="0.6"><rect x="429.5" y="460.5" width="7" height="5" rx="2"/><rect x="439" y="461" width="7" height="6" rx="2.5"/><rect x="448.5" y="464" width="7" height="6" rx="2.5"/><rect x="458.5" y="461" width="7" height="6" rx="2.5"/></g><g fill="#bbb"><rect x="431" y="462.3" width="4" height="1.2"/><circle cx="442.5" cy="464" r="1"/><circle cx="452" cy="467" r="1"/><circle cx="462" cy="464" r="1"/></g><circle cx="431.1" cy="478.3" r="3.5" fill="#a0a0a0" stroke="#5a5a5a" stroke-width="0.8"/><line x1="429" y1="480.3" x2="433" y2="476.3" stroke="#444" stroke-width="0.8"/><g stroke="#777" stroke-width="0.5" fill="none"><polyline points="450,484 441,484 441,500"/><polyline points="452,505 440,505 440,517 452,517"/></g><g fill="#888"><rect x="432" y="495" width="6" height="1.3"/><rect x="439" y="520" width="6" height="1.3"/><rect x="437" y="508" width="10" height="1.3"/><rect x="437" y="512" width="10" height="1.3"/></g><rect x="455.4" y="482.4" width="14.9" height="45.4" fill="#f2861e"/><rect x="457.5" y="485.3" width="3.8" height="2.3" fill="#4a1808"/><rect x="457.5" y="489.2" width="3.8" height="2.3" fill="#4a1808"/><rect x="457.5" y="493.1" width="3.8" height="2.3" fill="#4a1808"/><rect x="457.5" y="497.0" width="3.8" height="2.3" fill="#4a1808"/><rect x="457.5" y="500.9" width="3.8" height="2.3" fill="#4a1808"/><rect x="457.5" y="504.8" width="3.8" height="2.3" fill="#4a1808"/><rect x="457.5" y="508.7" width="3.8" height="2.3" fill="#4a1808"/><rect x="457.5" y="512.6" width="3.8" height="2.3" fill="#4a1808"/><rect x="457.5" y="516.5" width="3.8" height="2.3" fill="#4a1808"/><rect x="457.5" y="520.4" width="3.8" height="2.3" fill="#4a1808"/><rect x="457.5" y="524.3" width="3.8" height="2.3" fill="#4a1808"/><rect x="420.5" y="529" width="54.5" height="15" fill="#1c1c1c"/><polygon points="423,544.5 468,544.5 475.5,548 475.5,583.5 423,583.5" fill="url(#cov)"/><line x1="424" y1="546" x2="467" y2="546" stroke="#4a4e4e" stroke-width="1"/><rect x="467" y="537" width="8.5" height="46" fill="#2f3232"/><ellipse cx="471" cy="538" rx="2.5" ry="2" fill="#555"/><rect x="446" y="583.5" width="38" height="8" fill="#1a1a1a"/><rect x="447" y="590" width="4" height="5.5" fill="#6a6a6a"/><rect x="493" y="586" width="4" height="8" fill="#555"/><rect x="484" y="572" width="16" height="18" fill="#1e1e1e"/></svg>
<svg style="position:absolute;left:0;top:0" width="788" height="800"><defs><linearGradient id="hf" x1="0" y1="0" x2="0" y2="1"><stop offset="0" stop-color="#e4e4e4"/><stop offset="0.5" stop-color="#ececec"/><stop offset="1" stop-color="#d2d2d2"/></linearGradient><linearGradient id="hi" x1="0" y1="0" x2="1" y2="0"><stop offset="0" stop-color="#d9d9d9"/><stop offset="0.08" stop-color="#f4f4f4"/><stop offset="0.92" stop-color="#f4f4f4"/><stop offset="1" stop-color="#dcdcdc"/></linearGradient></defs><rect x="195.5" y="647.3" width="187.2" height="112" rx="3.5" fill="url(#hf)" stroke="#c4c4c4" stroke-width="1"/><rect x="199.5" y="651" width="179" height="104" rx="2" fill="url(#hi)"/><rect x="206.5" y="655.5" width="166.5" height="95.5" rx="2" fill="#ffecc0"/><rect x="207.45" y="656.6" width="4.4" height="93.2" rx="2.2" fill="#e8170c"/><rect x="214.05" y="656.6" width="4.4" height="93.2" rx="2.2" fill="#e8170c"/><rect x="220.65" y="656.6" width="4.4" height="93.2" rx="2.2" fill="#e8170c"/><rect x="227.25" y="656.6" width="4.4" height="93.2" rx="2.2" fill="#e8170c"/><rect x="233.85" y="656.6" width="4.4" height="93.2" rx="2.2" fill="#e8170c"/><rect x="240.45" y="656.6" width="4.4" height="93.2" rx="2.2" fill="#e8170c"/><rect x="247.05" y="656.6" width="4.4" height="93.2" rx="2.2" fill="#e8170c"/><rect x="253.65" y="656.6" width="4.4" height="93.2" rx="2.2" fill="#e8170c"/><rect x="260.25" y="656.6" width="4.4" height="93.2" rx="2.2" fill="#e8170c"/><rect x="266.85" y="656.6" width="4.4" height="93.2" rx="2.2" fill="#e8170c"/><rect x="273.45" y="656.6" width="4.4" height="93.2" rx="2.2" fill="#e8170c"/><rect x="280.05" y="656.6" width="4.4" height="93.2" rx="2.2" fill="#e8170c"/><rect x="286.65" y="656.6" width="4.4" height="93.2" rx="2.2" fill="#e8170c"/><rect x="293.25" y="656.6" width="4.4" height="93.2" rx="2.2" fill="#e8170c"/><rect x="299.85" y="656.6" width="4.4" height="93.2" rx="2.2" fill="#e8170c"/><rect x="306.45" y="656.6" width="4.4" height="93.2" rx="2.2" fill="#e8170c"/><rect x="313.05" y="656.6" width="4.4" height="93.2" rx="2.2" fill="#e8170c"/><rect x="319.65" y="656.6" width="4.4" height="93.2" rx="2.2" fill="#e8170c"/><rect x="326.25" y="656.6" width="4.4" height="93.2" rx="2.2" fill="#e8170c"/><rect x="332.85" y="656.6" width="4.4" height="93.2" rx="2.2" fill="#e8170c"/><rect x="339.45" y="656.6" width="4.4" height="93.2" rx="2.2" fill="#e8170c"/><rect x="346.05" y="656.6" width="4.4" height="93.2" rx="2.2" fill="#e8170c"/><rect x="352.65" y="656.6" width="4.4" height="93.2" rx="2.2" fill="#e8170c"/><rect x="359.25" y="656.6" width="4.4" height="93.2" rx="2.2" fill="#e8170c"/><rect x="365.85" y="656.6" width="4.4" height="93.2" rx="2.2" fill="#e8170c"/><g fill="#8a8a8a"><circle cx="367.5" cy="763.5" r="2.6"/><circle cx="376.3" cy="763.5" r="2.6"/><rect x="367.5" y="762.3" width="8.8" height="2.2"/></g><g fill="#222"><rect x="366" y="767" width="3" height="2.5"/><rect x="375" y="767" width="3" height="2.5"/></g></svg>
<svg style="position:absolute;left:0;top:0" width="788" height="800"><rect x="251.5" y="641" width="10" height="15" fill="#a4a49c"/><rect x="253.3" y="641" width="1.8" height="15" fill="#55554d"/><rect x="258" y="641" width="1.8" height="15" fill="#5a5a52"/><rect x="251.5" y="634.5" width="11" height="7" fill="#7f8f87"/><line x1="252" y1="640" x2="262" y2="636" stroke="#aab8b0" stroke-width="0.8"/><rect x="249" y="625" width="14" height="10" fill="#b5c5c5"/><rect x="249" y="625" width="4" height="10" fill="#98aaaa"/><polygon points="237,605.5 243.5,604.5 244.5,617 238.5,618" fill="#8fa3a3"/><polygon points="237,605.5 243.5,604.5 243.8,608 237.3,609" fill="#b4c6c6"/><polygon points="243.5,603.5 258,597.5 272,606 276.5,614 274,618 263.5,624 245.5,616" fill="#9fb4b4"/><polygon points="243.5,603.5 258,597.5 272,606 276.5,614 270.5,617 244.5,605.5" fill="#c2d2d2"/><line x1="244.5" y1="605.5" x2="270.5" y2="617" stroke="#4d6060" stroke-width="1.3"/><polygon points="245.5,616 260,617 260,625 246,624.5" fill="#62797a"/><polygon points="260,617 263.5,624 260,625" fill="#8aa0a0"/><circle cx="275.5" cy="615" r="1.6" fill="#8ea4a4"/><rect x="257.5" y="595.5" width="3" height="5" fill="#6f8585"/><rect x="265" y="599.5" width="2.6" height="5" fill="#6f8585"/><path d="M266 595 Q272.5 598 272.5 608" stroke="#4a4a4a" stroke-width="0.9" fill="none"/></svg>
<svg style="position:absolute;left:0;top:0" width="788" height="800"><defs><linearGradient id="tr" x1="0" x2="1"><stop offset="0" stop-color="#b8141a"/><stop offset="0.45" stop-color="#e8503c"/><stop offset="1" stop-color="#c01a1e"/></linearGradient><linearGradient id="ty" x1="0" x2="1"><stop offset="0" stop-color="#c8b418"/><stop offset="0.45" stop-color="#f2e23a"/><stop offset="1" stop-color="#d0bc20"/></linearGradient><linearGradient id="tg" x1="0" x2="1"><stop offset="0" stop-color="#128a2a"/><stop offset="0.45" stop-color="#30b040"/><stop offset="1" stop-color="#148c2c"/></linearGradient><linearGradient id="tw" x1="0" x2="1"><stop offset="0" stop-color="#c8c8c8"/><stop offset="0.45" stop-color="#ffffff"/><stop offset="1" stop-color="#bdbdbd"/></linearGradient><linearGradient id="tb" x1="0" x2="1"><stop offset="0" stop-color="#5a5a5a"/><stop offset="0.45" stop-color="#c8c8c8"/><stop offset="0.7" stop-color="#6a6a6a"/><stop offset="1" stop-color="#3a3a3a"/></linearGradient></defs><rect x="573" y="369" width="21.3" height="7" rx="2" fill="url(#tw)" stroke="#aaa" stroke-width="0.6"/><rect x="573" y="375.7" width="21.3" height="19.8" fill="url(#tr)"/><rect x="573" y="396.5" width="21.3" height="19.3" fill="url(#ty)"/><rect x="573" y="416.9" width="21.3" height="19.3" fill="url(#tg)"/><rect x="573" y="436.5" width="21.3" height="17" fill="url(#tw)"/><polygon points="573,453 594.3,453 587,462 580,462" fill="#4a4a4a"/><rect x="580.8" y="462" width="6" height="25" fill="url(#tw)" stroke="#999" stroke-width="0.5"/><path d="M580 487 L587.5 487 Q590 496 600 499 Q602 503 598 504.5 L570 504.5 Q566 503 568 499 Q577 496 580 487 Z" fill="url(#tb)"/><g stroke="#ee6a3a" stroke-width="4" stroke-linecap="round"><line x1="553" y1="387.6" x2="563" y2="393.8"/><line x1="548.5" y1="405.2" x2="562" y2="405.2"/><line x1="553" y1="421.6" x2="563" y2="415.6"/><line x1="604.3" y1="393.8" x2="614.3" y2="387.6"/><line x1="604.8" y1="405.2" x2="618.8" y2="405.2"/><line x1="604.3" y1="415.8" x2="614.3" y2="421.8"/></g></svg>
<svg style="position:absolute;left:0;top:0" width="788" height="800"><defs><linearGradient id="fc" x1="0" x2="1"><stop offset="0" stop-color="#5e5a52"/><stop offset="0.18" stop-color="#7a756b"/><stop offset="0.26" stop-color="#eeeeea"/><stop offset="0.66" stop-color="#e6e6e2"/><stop offset="0.74" stop-color="#7d776d"/><stop offset="1" stop-color="#5e5a52"/></linearGradient><linearGradient id="fb" x1="0" x2="1"><stop offset="0" stop-color="#b4b6b4"/><stop offset="0.5" stop-color="#dcdedc"/><stop offset="1" stop-color="#aeb0ae"/></linearGradient><radialGradient id="fx"><stop offset="0" stop-color="#ffffff"/><stop offset="0.35" stop-color="#fff6e0"/><stop offset="1" stop-color="#fff6e0" stop-opacity="0"/></radialGradient></defs><rect x="657" y="598" width="38.5" height="70" fill="url(#fb)"/><rect x="656.3" y="582.2" width="39.7" height="17" rx="2.5" fill="url(#fc)"/><rect x="656.3" y="667.6" width="39.7" height="18.7" rx="2.5" fill="url(#fc)"/><circle cx="681" cy="622" r="11" fill="none" stroke="#6d8aa0" stroke-width="3" opacity="0.7"/><text x="660" y="652" font-family="Liberation Sans" font-size="7.5" fill="#2f5f8a" opacity="0.85">Bussmann</text><rect x="674" y="582" width="3.8" height="104" fill="#f4f4f4"/><rect x="675" y="582" width="1.8" height="104" fill="#b81820"/><circle cx="675" cy="632" r="17" fill="url(#fx)"/><circle cx="675" cy="632" r="6" fill="#fff" opacity="0.95"/><g stroke="#e89a50" stroke-width="0.8" opacity="0.9"><line x1="652" y1="621" x2="698" y2="644"/><line x1="649" y1="641" x2="702" y2="623"/><line x1="660" y1="612" x2="692" y2="652"/><line x1="650" y1="631" x2="706" y2="637"/><line x1="667" y1="610" x2="685" y2="655"/><line x1="688" y1="614" x2="662" y2="650"/></g><g stroke="#d02020" stroke-width="2"><line x1="662" y1="624" x2="668" y2="628"/><line x1="680" y1="637" x2="688" y2="642"/></g></svg>
</body></html>
